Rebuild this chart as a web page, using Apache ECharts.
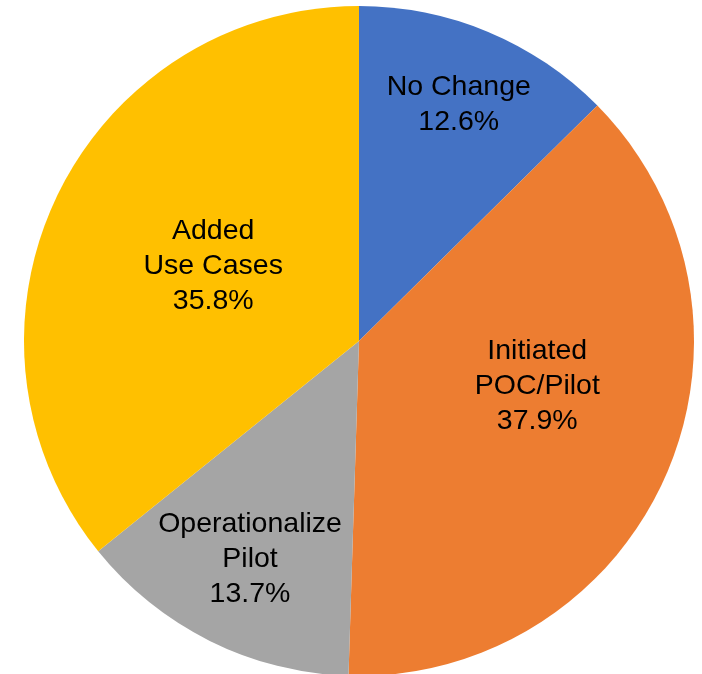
<!DOCTYPE html>
<html>
<head>
<meta charset="utf-8">
<script src="https://cdn.jsdelivr.net/npm/echarts@6/dist/echarts.min.js"></script>
<style>html,body{margin:0;padding:0;background:#fff;}#c{width:702px;height:674px;}</style>
</head>
<body>
<div id="c"></div>
<script>
var categories = ['No Change', 'Initiated\nPOC/Pilot', 'Operationalize\nPilot', 'Added\nUse Cases'];
var values = [12.6, 37.9, 13.7, 35.8];
var colors = ['#4472C4', '#ED7D31', '#A5A5A5', '#FFC000'];
var labelOffsets = [[34, -79], [22, -23], [-33, 66], [8, -1]];

var chart = echarts.init(document.getElementById('c'), null, {renderer: 'canvas'});
chart.setOption({
  animation: false,
  series: [{
    type: 'pie',
    center: [359, 341],
    radius: [0, 335],
    startAngle: 90,
    clockwise: true,
    avoidLabelOverlap: false,
    data: categories.map(function (c, i) {
      return {name: c, value: values[i], itemStyle: {color: colors[i]}};
    }),
    itemStyle: {borderWidth: 0},
    label: {
      show: true,
      position: 'inside',
      formatter: function (p) { return p.name + '\n' + p.value.toFixed(1) + '%'; },
      fontFamily: 'Liberation Sans, Arial, sans-serif',
      fontSize: 28.5,
      lineHeight: 35,
      color: '#000',
      align: 'center'
    },
    labelLine: {show: false},
    labelLayout: function (p) {
      var o = labelOffsets[p.dataIndex];
      return {dx: o[0], dy: o[1]};
    },
    emphasis: {disabled: true}
  }]
});
</script>
</body>
</html>
